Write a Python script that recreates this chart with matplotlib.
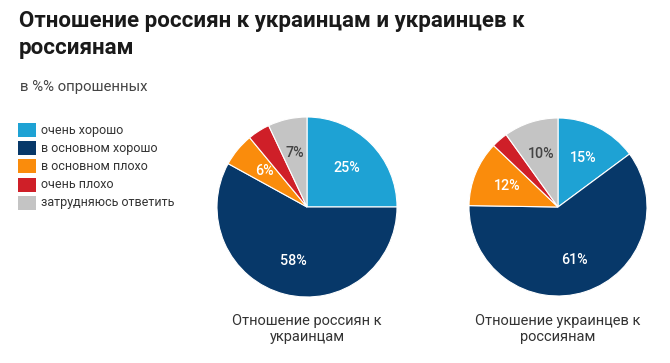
import math
import matplotlib
matplotlib.use("Agg")
import matplotlib.pyplot as plt
from matplotlib.patches import Rectangle

plt.rcParams['font.family'] = ['Roboto', 'DejaVu Sans']

W, H = 670, 363
title = "Отношение россиян к украинцам и украинцев к\nроссиянам"
subtitle = "в %% опрошенных"
categories = ["очень хорошо", "в основном хорошо", "в основном плохо", "очень плохо", "затрудняюсь ответить"]
colors = ["#1EA2D4", "#073869", "#FA8C0C", "#CF1F28", "#C4C4C4"]
russians_to_ukrainians = [25, 58, 6, 4, 7]
ukrainians_to_russians = [15, 61, 12, 3, 10]
labels1 = ["25%", "58%", "6%", "", "7%"]
labels2 = ["15%", "61%", "12%", "", "10%"]
captions = ["Отношение россиян к\nукраинцам", "Отношение украинцев к\nроссиянам"]

fig = plt.figure(figsize=(W / 100, H / 100), dpi=100)
fig.patch.set_facecolor("white")

def fx(x):
    return x / W

def fy(y):
    return 1 - y / H

fig.text(fx(19), fy(10), title, fontsize=16, fontweight="bold", color="#1a1a1a",
         va="top", ha="left", linespacing=1.3)
fig.text(fx(20), fy(87), subtitle, fontsize=10.7, color="#444444", va="center", ha="left")

# legend
for i, (lab, col) in enumerate(zip(categories, colors)):
    yc = 130 + i * 18.2
    fig.patches.append(Rectangle((fx(18), fy(yc + 7)), 18 / W, 14 / H, transform=fig.transFigure,
                                 facecolor=col, edgecolor="none"))
    fig.text(fx(41), fy(yc), lab, fontsize=9, color="#333333", va="center", ha="left")

def draw_pie(cx, cy, r, values, labels, caption):
    ax = fig.add_axes([fx(cx - r), fy(cy + r), 2 * r / W, 2 * r / H])
    ax.pie(values, colors=colors, startangle=90, counterclock=False,
           wedgeprops=dict(edgecolor="white", linewidth=0.8), radius=1)
    ax.set_xlim(-1, 1)
    ax.set_ylim(-1, 1)
    ax.set_aspect("auto")
    ax.axis("off")
    total = sum(values)
    start = 90.0
    for v, lab, col in zip(values, labels, colors):
        ang = start - v / total * 360 / 2
        start -= v / total * 360
        if not lab:
            continue
        tc = "#444444" if col == "#C4C4C4" else "white"
        ax.text(0.62 * math.cos(math.radians(ang)), 0.62 * math.sin(math.radians(ang)), lab,
                ha="center", va="center", fontsize=10.3, fontweight="medium", color=tc)
    fig.text(fx(cx), fy(329), caption, ha="center", va="center", fontsize=10.5,
             color="#333333", linespacing=1.2)

draw_pie(307, 207, 90, russians_to_ukrainians, labels1, captions[0])
draw_pie(558, 207, 89, ukrainians_to_russians, labels2, captions[1])

fig.savefig("out.png", dpi=100)
